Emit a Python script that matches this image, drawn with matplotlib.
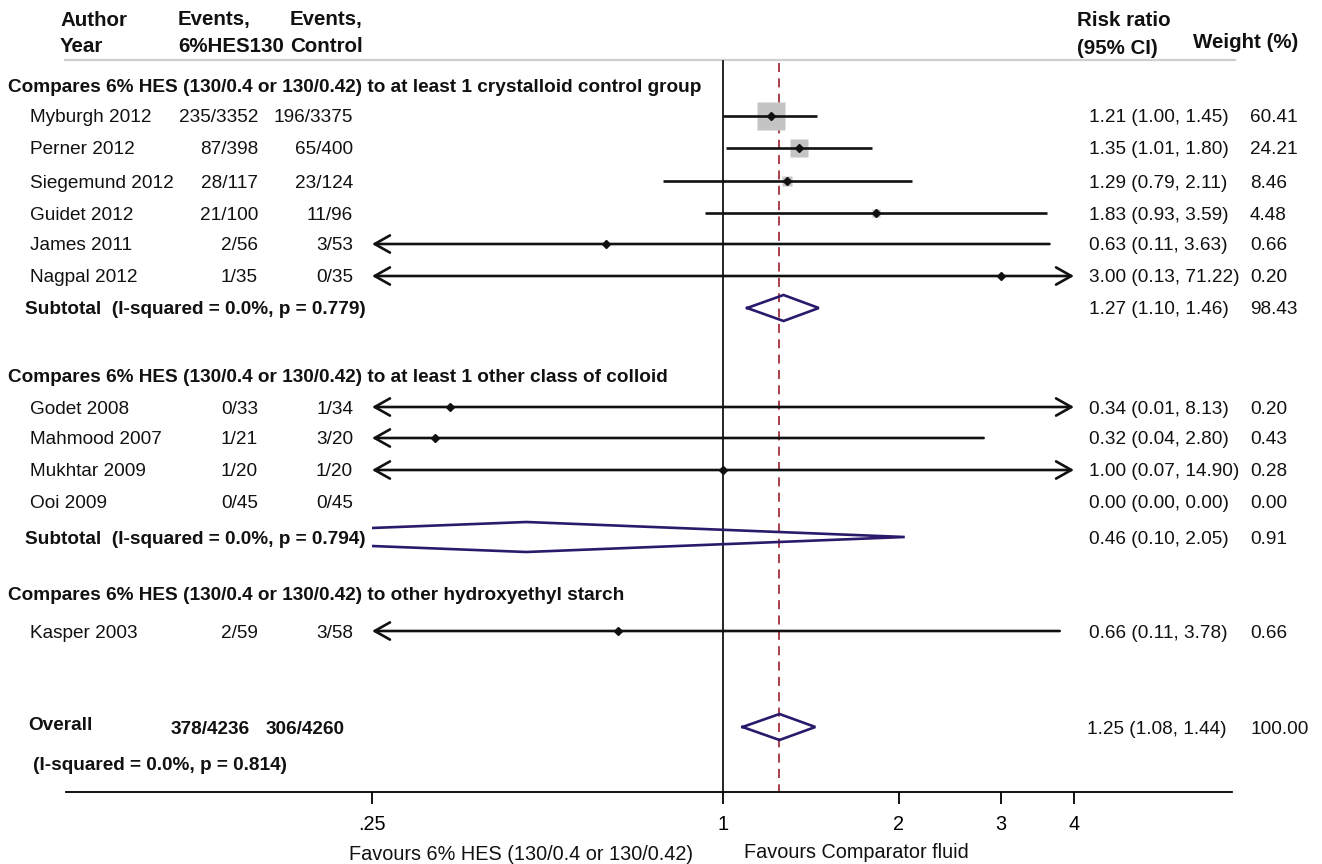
import matplotlib
matplotlib.use("Agg")
import matplotlib.pyplot as plt
from matplotlib.transforms import blended_transform_factory
from matplotlib.patches import Rectangle

plt.rcParams['font.family'] = ['Liberation Sans', 'DejaVu Sans']

# ---- data ----
groups = [
    "Compares 6% HES (130/0.4 or 130/0.42) to at least 1 crystalloid control group",
    "Compares 6% HES (130/0.4 or 130/0.42) to at least 1 other class of colloid",
    "Compares 6% HES (130/0.4 or 130/0.42) to other hydroxyethyl starch",
]
study_names = ["Myburgh 2012", "Perner 2012", "Siegemund 2012", "Guidet 2012",
               "James 2011", "Nagpal 2012",
               "Godet 2008", "Mahmood 2007", "Mukhtar 2009", "Ooi 2009",
               "Kasper 2003"]
study_group = [0, 0, 0, 0, 0, 0, 1, 1, 1, 1, 2]
events_hes = ["235/3352", "87/398", "28/117", "21/100", "2/56", "1/35",
              "0/33", "1/21", "1/20", "0/45", "2/59"]
events_ctl = ["196/3375", "65/400", "23/124", "11/96", "3/53", "0/35",
              "1/34", "3/20", "1/20", "0/45", "3/58"]
rr = [1.21, 1.35, 1.29, 1.83, 0.63, 3.00, 0.34, 0.32, 1.00, 0.00, 0.66]
rr_lo = [1.00, 1.01, 0.79, 0.93, 0.11, 0.13, 0.01, 0.04, 0.07, 0.00, 0.11]
rr_hi = [1.45, 1.80, 2.11, 3.59, 3.63, 71.22, 8.13, 2.80, 14.90, 0.00, 3.78]
weights = [60.41, 24.21, 8.46, 4.48, 0.66, 0.20, 0.20, 0.43, 0.28, 0.00, 0.66]

sub_labels = ["Subtotal  (I-squared = 0.0%, p = 0.779)",
              "Subtotal  (I-squared = 0.0%, p = 0.794)"]
sub_rr = [1.27, 0.46]
sub_lo = [1.10, 0.10]
sub_hi = [1.46, 2.05]
sub_w = [98.43, 0.91]

overall_events = ["378/4236", "306/4260"]
overall_rr, overall_lo, overall_hi = 1.25, 1.08, 1.44
overall_het = "(I-squared = 0.0%, p = 0.814)"

tick_vals = [0.25, 1, 2, 3, 4]
tick_text = [".25", "1", "2", "3", "4"]

# ---- layout (pixel rows, figure is 1322 x 864) ----
W, H = 1322, 864
group_y = [85, 376, 594]
study_y = [116, 148, 181, 213, 244, 276, 407, 438, 470, 502, 631]
sub_y = [308, 537]
overall_y, het_y = 727, 763
axis_y = 792
clip_lo, clip_hi = 0.25, 4.0
px_per_log2 = 175.5
x_one = 723
x_left, x_right = 66, 1232

FS = 13.7
HFS = 14.8
ink = "#111111"
box_grey = "#c4c4c4"
diam_col = "#2b1a6b"
ref_col = "#a3303c"

fig = plt.figure(figsize=(W / 100, H / 100), dpi=100)
ax = fig.add_axes([x_left / W, (H - axis_y) / H, (x_right - x_left) / W, axis_y / H])
ax.set_xscale('log')
ax.set_xlim(2 ** ((x_left - x_one) / px_per_log2), 2 ** ((x_right - x_one) / px_per_log2))
ax.set_ylim(axis_y, 0)

for s in ['top', 'left', 'right']:
    ax.spines[s].set_visible(False)
ax.spines['bottom'].set_linewidth(1.3)
ax.set_yticks([])
ax.set_xticks(tick_vals)
ax.set_xticklabels(tick_text)
ax.minorticks_off()
ax.tick_params(axis='x', direction='out', length=8.5, width=1.3, pad=8,
               labelsize=FS + 0.6, colors='black')

tf = blended_transform_factory(fig.transFigure, ax.transData)


def put(xpx, y, s, ha='left', bold=False, size=FS):
    # +2 px so the visual centre of the glyphs sits on the row
    ax.text(xpx / W, y + 2, s, transform=tf, ha=ha, va='center', fontsize=size,
            fontweight='bold' if bold else 'normal', color=ink, clip_on=False)


# header
put(60, 18, "Author", bold=True, size=HFS)
put(60, 45, "Year", bold=True, size=HFS)
put(178, 18, "Events,", bold=True, size=HFS)
put(178, 45, "6%HES130", bold=True, size=HFS)
put(290, 18, "Events,", bold=True, size=HFS)
put(290, 45, "Control", bold=True, size=HFS)
put(1077, 18, "Risk ratio", bold=True, size=HFS)
put(1077, 46, "(95% CI)", bold=True, size=HFS)
put(1193, 41, "Weight (%)", bold=True, size=HFS)
ax.plot([(x_left - 1) / W, 1235 / W], [60, 60], transform=tf, color="#cfcfcf",
        lw=1.6, clip_on=False)

# reference lines
ax.plot([1, 1], [61, axis_y], color="black", lw=1.2)
ax.plot([overall_rr, overall_rr], [63, axis_y], color=ref_col, lw=1.3,
        dashes=(5, 3.5))

for g, y in zip(groups, group_y):
    put(8, y, g, bold=True)


def ci_line(lo, hi, y):
    a = max(lo, clip_lo)
    b = min(hi, clip_hi)
    left, right = lo < clip_lo, hi > clip_hi
    if not (left or right):
        ax.plot([a, b], [y, y], color=ink, lw=1.9, solid_capstyle='butt', zorder=3)
        return
    style = {(True, True): '<->', (True, False): '<-', (False, True): '->'}[(left, right)]
    ax.annotate('', xy=(b, y), xytext=(a, y),
                arrowprops=dict(arrowstyle=style + ',head_length=1.1,head_width=0.62',
                                mutation_scale=10, lw=1.9, color=ink,
                                shrinkA=0, shrinkB=0), zorder=3)


for i, name in enumerate(study_names):
    y = study_y[i]
    put(30, y, name)
    put(258, y, events_hes[i], ha='right')
    put(353, y, events_ctl[i], ha='right')
    put(1089, y, "%.2f (%.2f, %.2f)" % (rr[i], rr_lo[i], rr_hi[i]))
    put(1250, y, "%.2f" % weights[i])
    if weights[i] <= 0:
        continue
    side_px = 28 * (weights[i] / weights[0]) ** 0.5
    ax.plot([rr[i]], [y], marker='s', ms=side_px * 0.72, mfc=box_grey,
            mec='none', ls='none', zorder=2)
    ci_line(rr_lo[i], rr_hi[i], y)
    ax.plot([rr[i]], [y], marker='D', ms=4.2, mfc=ink, mec=ink, ls='none', zorder=4)

clip_rect = Rectangle((clip_lo, 0), clip_hi - clip_lo, axis_y, transform=ax.transData,
                      fill=False, visible=False)
ax.add_patch(clip_rect)


def diamond(c, lo, hi, y, h):
    ln, = ax.plot([lo, c, hi, c, lo], [y, y - h, y, y + h, y], color=diam_col,
                  lw=1.9, solid_joinstyle='miter', zorder=3)
    ln.set_clip_path(clip_rect)


for j, lab in enumerate(sub_labels):
    y = sub_y[j]
    put(25, y, lab, bold=True)
    put(1089, y, "%.2f (%.2f, %.2f)" % (sub_rr[j], sub_lo[j], sub_hi[j]))
    put(1250, y, "%.2f" % sub_w[j])
    diamond(sub_rr[j], sub_lo[j], sub_hi[j], y, 15 if j == 1 else 13)

put(28, overall_y - 3, "Overall", bold=True)
put(250, overall_y, overall_events[0], ha='right', bold=True)
put(345, overall_y, overall_events[1], ha='right', bold=True)
put(33, het_y, overall_het, bold=True)
put(1087, overall_y, "%.2f (%.2f, %.2f)" % (overall_rr, overall_lo, overall_hi))
put(1250, overall_y, "100.00")
diamond(overall_rr, overall_lo, overall_hi, overall_y, 13)

fig.text(521 / W, 1 - 854 / H, "Favours 6% HES (130/0.4 or 130/0.42)", ha='center',
         va='center', fontsize=FS + 0.6, color=ink)
fig.text(744 / W, 1 - 852 / H, "Favours Comparator fluid", ha='left',
         va='center', fontsize=FS + 0.6, color=ink)

fig.savefig("out.png", dpi=100, facecolor='white')
